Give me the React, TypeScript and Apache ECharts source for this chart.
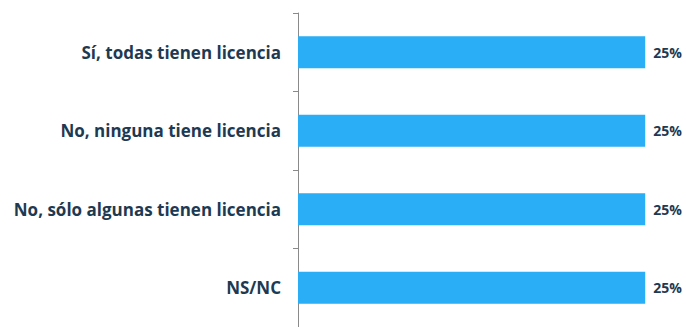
import React, { useEffect, useRef } from "react";
import * as echarts from "echarts";

const categories = [
  "Sí, todas tienen licencia",
  "No, ninguna tiene licencia",
  "No, sólo algunas tienen licencia",
  "NS/NC",
];
const values = [25, 25, 25, 25];

export default function App() {
  const ref = useRef<HTMLDivElement>(null);
  useEffect(() => {
    if (!ref.current) return;
    const chart = echarts.init(ref.current, undefined, { renderer: "svg" });
    chart.setOption({
      animation: false,
      backgroundColor: "#ffffff",
      grid: { left: 298, right: 13, top: 13, bottom: -4, containLabel: false },
      xAxis: {
        type: "value",
        min: 0,
        max: 27,
        show: false,
      },
      yAxis: {
        type: "category",
        inverse: true,
        data: categories,
        axisLine: { show: true, lineStyle: { color: "#8a8a8a", width: 1 } },
        axisTick: { show: true, length: 5, inside: false, lineStyle: { color: "#8a8a8a" } },
        axisLabel: {
          margin: 17,
          color: "#1e3a52",
          fontFamily: "Open Sans",
          fontWeight: "bold",
          fontSize: 17,
        },
        splitLine: { show: false },
      },
      series: [
        {
          type: "bar",
          data: values,
          barWidth: 32,
          itemStyle: { color: "#2aaef5" },
          label: {
            show: true,
            position: "right",
            distance: 8,
            formatter: "{c}%",
            color: "#1e3a52",
            fontFamily: "Open Sans",
            fontWeight: "bold",
            fontSize: 14,
          },
        },
      ],
    });
    return () => chart.dispose();
  }, []);
  return <div ref={ref} style={{ width: 686, height: 327, position: "absolute", left: 0, top: 0 }} />;
}
